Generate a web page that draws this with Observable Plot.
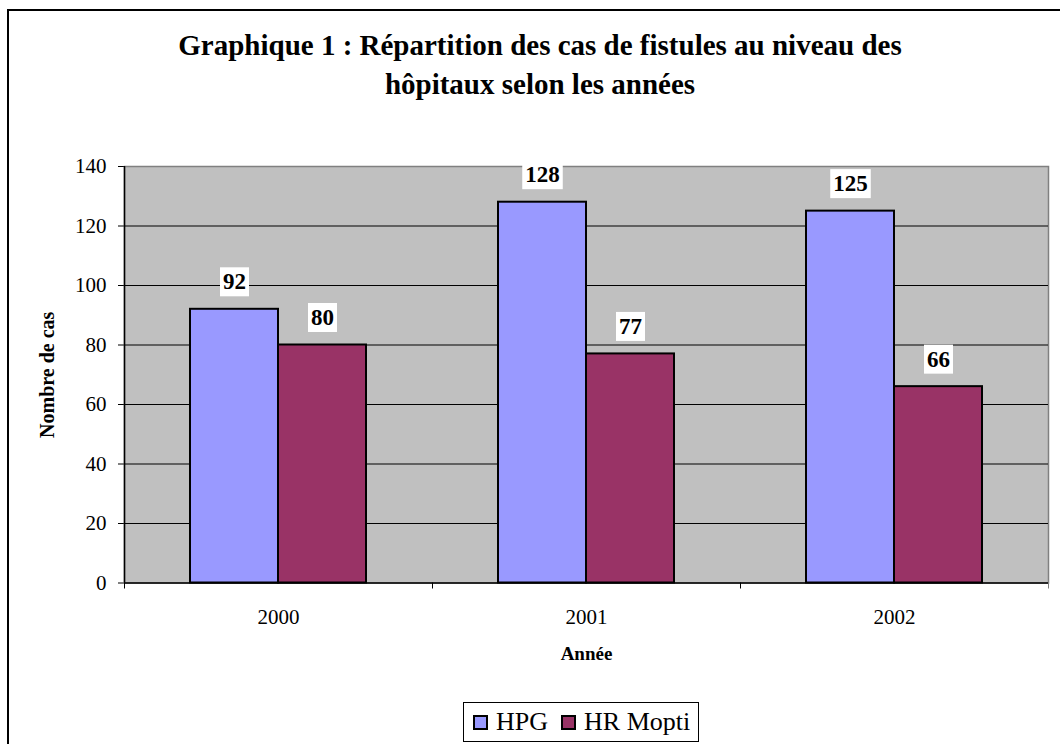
<!DOCTYPE html>
<html><head><meta charset="utf-8">
<script src="https://cdn.jsdelivr.net/npm/d3@7"></script>
<script src="https://cdn.jsdelivr.net/npm/@observablehq/plot@0.6"></script>
<style>
html,body{margin:0;padding:0;background:#fff;overflow:hidden;width:1060px;height:744px;position:relative}
#frame{position:absolute;left:7px;top:9px;width:1100px;height:800px;border-left:2px solid #000;border-top:2px solid #000;box-sizing:border-box}
#title{position:absolute;left:0;width:1080px;top:26px;text-align:center;font:bold 29px "Liberation Serif";line-height:39px;color:#000}
#chart{position:absolute;left:0;top:0}
#legend{position:absolute;left:463px;top:702px;height:40px;box-sizing:border-box;border:1px solid #000;background:#fff;display:flex;align-items:center;padding:0 8px 0 9px;font:26px "Liberation Serif";color:#000;white-space:nowrap}
#legend .sw{display:inline-block;width:15px;height:15px;box-sizing:border-box;border:2px solid #000;margin-right:8px}
#legend .item{display:flex;align-items:center;margin-right:13px}
#legend .item:last-child{margin-right:0}
</style></head>
<body>
<div id="frame"></div>
<div id="chart"></div>
<div id="title">Graphique 1 : Répartition des cas de fistules au niveau des<br>hôpitaux selon les années</div>
<div id="legend"></div>
<script>
const years = ["2000", "2001", "2002"];
const seriesNames = ["HPG", "HR Mopti"];
const hpgValues = [92, 128, 125];
const hrMoptiValues = [80, 77, 66];
const seriesColors = ["#9999ff", "#993366"];
const yTicks = [0, 20, 40, 60, 80, 100, 120, 140];

const rows = years.flatMap((year, i) => [
  {year, series: seriesNames[0], value: hpgValues[i]},
  {year, series: seriesNames[1], value: hrMoptiValues[i]}
]);

const W = 1060, H = 744, mL = 124, mR = 12, mT = 166, mB = 161.5;
const band = (W - mL - mR) / years.length;

const labelStyle = {fontWeight: "bold", fontSize: 23, fontFamily: "Liberation Serif", fill: "#000", lineAnchor: "bottom", dy: -20};

const chart = Plot.plot({
  width: W, height: H,
  marginLeft: mL, marginRight: mR, marginTop: mT, marginBottom: mB,
  style: {background: "transparent", fontFamily: "Liberation Serif", fontSize: "21px", color: "#000", overflow: "visible"},
  x: {domain: years, padding: 0, label: null, tickSize: 0, tickPadding: 26},
  y: {domain: [0, 140], ticks: yTicks, label: null, tickSize: 6, tickPadding: 12},
  color: {domain: seriesNames, range: seriesColors},
  marks: [
    Plot.frame({fill: "#c0c0c0", stroke: "#808080", strokeWidth: 1.5}),
    Plot.ruleY(yTicks.slice(1, -1), {stroke: "#000", strokeWidth: 1}),
    Plot.barY(rows.filter(d => d.series === seriesNames[0]), {
      x: "year", y: "value", fill: "series", stroke: "#000", strokeWidth: 2,
      insetLeft: band * 3 / 14, insetRight: band / 2
    }),
    Plot.barY(rows.filter(d => d.series === seriesNames[1]), {
      x: "year", y: "value", fill: "series", stroke: "#000", strokeWidth: 2,
      insetLeft: band / 2, insetRight: band * 3 / 14
    }),
    Plot.ruleY([0], {stroke: "#000", strokeWidth: 1.5}),
    Plot.ruleX([years[0]], {dx: -band / 2, stroke: "#000", strokeWidth: 1.5}),
    Plot.ruleX(years, {x: d => d, y1: 0, y2: 0, insetBottom: -6, dx: -band / 2, stroke: "#000"}),
    Plot.ruleX([years[years.length - 1]], {y1: 0, y2: 0, insetBottom: -6, dx: band / 2, stroke: "#808080"}),
    Plot.text(rows.filter(d => d.series === seriesNames[0]), {
      x: "year", y: "value", text: d => String(d.value), dx: -band / 7, ...labelStyle
    }),
    Plot.text(rows.filter(d => d.series === seriesNames[1]), {
      x: "year", y: "value", text: d => String(d.value), dx: band / 7, ...labelStyle
    }),
    Plot.text(["Année"], {frameAnchor: "bottom", text: d => d, dy: 77, textAnchor: "middle", fontWeight: "bold", fontSize: 19, fontFamily: "Liberation Serif"}),
    Plot.text(["Nombre de cas"], {frameAnchor: "left", text: d => d, dx: -77, rotate: -90, textAnchor: "middle", fontWeight: "bold", fontSize: 20, fontFamily: "Liberation Serif"})
  ]
});
document.getElementById("chart").appendChild(chart);

// white boxes behind the value labels (the first two text marks)
const textGroups = chart.querySelectorAll('g[aria-label="text"]');
[textGroups[0], textGroups[1]].forEach(g => {
  if (!g) return;
  g.querySelectorAll("text").forEach(t => {
    const b = t.getBBox();
    const r = document.createElementNS("http://www.w3.org/2000/svg", "rect");
    r.setAttribute("x", b.x - 3);
    r.setAttribute("y", b.y - 2);
    r.setAttribute("width", b.width + 6);
    r.setAttribute("height", b.height + 4);
    r.setAttribute("fill", "#fff");
    if (t.getAttribute("transform")) r.setAttribute("transform", t.getAttribute("transform"));
    t.parentNode.insertBefore(r, t);
  });
});

// legend
const legend = document.getElementById("legend");
seriesNames.forEach((name, i) => {
  const item = document.createElement("span");
  item.className = "item";
  const sw = document.createElement("span");
  sw.className = "sw";
  sw.style.background = seriesColors[i];
  item.appendChild(sw);
  item.appendChild(document.createTextNode(name));
  legend.appendChild(item);
});
</script>
</body></html>
